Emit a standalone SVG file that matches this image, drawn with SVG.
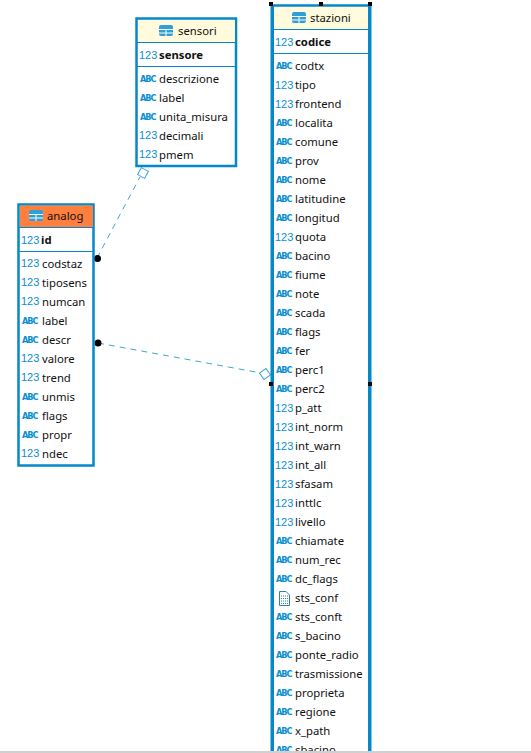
<svg xmlns="http://www.w3.org/2000/svg" width="531" height="753" viewBox="0 0 531 753">
<style>
.f{font-family:"Noto Sans","Liberation Sans",sans-serif;font-size:11.3px;fill:#111}
.b{font-weight:700}
.n{font-family:"Liberation Sans",sans-serif;font-size:11px;fill:#0a8fcf}
.a{font-family:"DejaVu Sans",sans-serif;font-size:8.2px;font-weight:700;fill:#0a8fcf;letter-spacing:-1.1px}
.box{fill:#fff;stroke:#0588c8;stroke-width:2.500}
.sep{stroke:#0588c8;stroke-width:1}
.c{fill:none;stroke:#3fa7d6;stroke-width:1;stroke-dasharray:6 5}
.d{fill:#fff;stroke:#3fa7d6;stroke-width:1}
.h{fill:#000}
.ic{fill:#2f9fd8}
.il{stroke:#fff;stroke-width:1}
</style>
<defs>
<g id="t"><rect class="ic" x="0" y="0" width="14" height="11" rx="2"/><path class="il" d="M0 4.500H14M7 4.500V11M0 8H14"/></g>
</defs>
<rect x="0" y="751" width="531" height="2" fill="#d0d0d0"/>
<g id="connectors">
<path class="c" d="M97 258L140 177"/>
<path class="c" d="M98 343L261 373"/>
<rect class="d" x="139" y="169" width="8" height="8" transform="rotate(28 143 173)"/>
<rect class="d" x="261" y="370" width="8" height="8" transform="rotate(55 265 374)"/>
<circle class="h" cx="97.500" cy="258.500" r="3.500"/>
<circle class="h" cx="98" cy="343" r="3.500"/>
</g>
<g id="sensori">
<rect class="box" x="136.500" y="18.500" width="99.500" height="147.500"/>
<rect x="138" y="20" width="97" height="22" fill="#fffbdc"/>
<path class="sep" d="M137 42.500H236M137 66.500H236"/>
<use href="#t" x="159" y="25"/>
<text class="f" x="178" y="35">sensori</text>
<text class="n" x="139" y="59">123</text><text class="f b" x="159" y="59">sensore</text>
<text class="a" x="140" y="82">ABC</text><text class="f" x="159" y="83">descrizione</text>
<text class="a" x="140" y="101">ABC</text><text class="f" x="159" y="102">label</text>
<text class="a" x="140" y="120">ABC</text><text class="f" x="159" y="121">unita_misura</text>
<text class="n" x="139" y="139">123</text><text class="f" x="159" y="140">decimali</text>
<text class="n" x="139" y="158">123</text><text class="f" x="159" y="159">pmem</text>
</g>
<g id="analog">
<rect class="box" x="18.500" y="204.500" width="75" height="261"/>
<rect x="20" y="205.500" width="73" height="22" fill="#ff7f3f"/>
<path class="sep" d="M19 227.500H94M19 251.500H94"/>
<use href="#t" x="29" y="210"/>
<text class="f" x="47" y="220">analog</text>
<text class="n" x="21" y="244">123</text><text class="f b" x="41" y="244">id</text>
<text class="n" x="21" y="267">123</text><text class="f" x="42" y="268">codstaz</text>
<text class="n" x="21" y="286">123</text><text class="f" x="42" y="287">tiposens</text>
<text class="n" x="21" y="305">123</text><text class="f" x="42" y="306">numcan</text>
<text class="a" x="22" y="324">ABC</text><text class="f" x="42" y="325">label</text>
<text class="a" x="22" y="343">ABC</text><text class="f" x="42" y="344">descr</text>
<text class="n" x="21" y="362">123</text><text class="f" x="42" y="363">valore</text>
<text class="n" x="21" y="381">123</text><text class="f" x="42" y="382">trend</text>
<text class="a" x="22" y="400">ABC</text><text class="f" x="42" y="401">unmis</text>
<text class="a" x="22" y="419">ABC</text><text class="f" x="42" y="420">flags</text>
<text class="a" x="22" y="438">ABC</text><text class="f" x="42" y="439">propr</text>
<text class="n" x="21" y="457">123</text><text class="f" x="42" y="458">ndec</text>
</g>
<g id="stazioni">
<rect x="272" y="6" width="98" height="745" fill="#fff"/>
<rect x="274" y="7" width="94" height="22" fill="#fffbdc"/>
<path d="M272 5.500H369" stroke="#0588c8" stroke-width="2.500"/>
<rect x="270.500" y="5" width="3.500" height="746" fill="#0588c8"/>
<rect x="368" y="5" width="3.500" height="746" fill="#0588c8"/>
<path class="sep" d="M272 29.500H370M272 53.500H370"/>
<use href="#t" x="292" y="12"/>
<text class="f" x="310" y="22">stazioni</text>
<text class="n" x="275" y="46">123</text><text class="f b" x="295" y="46">codice</text>
<text class="a" x="276" y="69">ABC</text><text class="f" x="295" y="70">codtx</text>
<text class="n" x="275" y="89">123</text><text class="f" x="295" y="89">tipo</text>
<text class="n" x="275" y="108">123</text><text class="f" x="295" y="108">frontend</text>
<text class="a" x="276" y="126">ABC</text><text class="f" x="295" y="127">localita</text>
<text class="a" x="276" y="145">ABC</text><text class="f" x="295" y="146">comune</text>
<text class="a" x="276" y="164">ABC</text><text class="f" x="295" y="165">prov</text>
<text class="a" x="276" y="183">ABC</text><text class="f" x="295" y="184">nome</text>
<text class="a" x="276" y="202">ABC</text><text class="f" x="295" y="203">latitudine</text>
<text class="a" x="276" y="221">ABC</text><text class="f" x="295" y="222">longitud</text>
<text class="n" x="275" y="241">123</text><text class="f" x="295" y="241">quota</text>
<text class="a" x="276" y="259">ABC</text><text class="f" x="295" y="260">bacino</text>
<text class="a" x="276" y="278">ABC</text><text class="f" x="295" y="279">fiume</text>
<text class="a" x="276" y="297">ABC</text><text class="f" x="295" y="298">note</text>
<text class="a" x="276" y="316">ABC</text><text class="f" x="295" y="317">scada</text>
<text class="a" x="276" y="335">ABC</text><text class="f" x="295" y="336">flags</text>
<text class="a" x="276" y="354">ABC</text><text class="f" x="295" y="355">fer</text>
<text class="a" x="276" y="373">ABC</text><text class="f" x="295" y="374">perc1</text>
<text class="a" x="276" y="392">ABC</text><text class="f" x="295" y="393">perc2</text>
<text class="n" x="275" y="412">123</text><text class="f" x="295" y="412">p_att</text>
<text class="n" x="275" y="431">123</text><text class="f" x="295" y="431">int_norm</text>
<text class="n" x="275" y="450">123</text><text class="f" x="295" y="450">int_warn</text>
<text class="n" x="275" y="469">123</text><text class="f" x="295" y="469">int_all</text>
<text class="n" x="275" y="488">123</text><text class="f" x="295" y="488">sfasam</text>
<text class="n" x="275" y="507">123</text><text class="f" x="295" y="507">inttlc</text>
<text class="n" x="275" y="526">123</text><text class="f" x="295" y="526">livello</text>
<text class="a" x="276" y="544">ABC</text><text class="f" x="295" y="545">chiamate</text>
<text class="a" x="276" y="563">ABC</text><text class="f" x="295" y="564">num_rec</text>
<text class="a" x="276" y="582">ABC</text><text class="f" x="295" y="583">dc_flags</text>
<g id="sts_conf_icon"><path d="M279.500 591.500H286L289.500 595V605.500H279.500Z" fill="#fff" stroke="#2f7fb8"/><path d="M281 596H288M281 598.500H288M281 601H288M281 603.500H288" stroke="#2f7fb8" stroke-dasharray="1 1"/></g>
<text class="f" x="295" y="602">sts_conf</text>
<text class="a" x="276" y="620">ABC</text><text class="f" x="295" y="621">sts_conft</text>
<text class="a" x="276" y="639">ABC</text><text class="f" x="295" y="640">s_bacino</text>
<text class="a" x="276" y="658">ABC</text><text class="f" x="295" y="659">ponte_radio</text>
<text class="a" x="276" y="677">ABC</text><text class="f" x="295" y="678">trasmissione</text>
<text class="a" x="276" y="696">ABC</text><text class="f" x="295" y="697">proprieta</text>
<text class="a" x="276" y="715">ABC</text><text class="f" x="295" y="716">regione</text>
<text class="a" x="276" y="734">ABC</text><text class="f" x="295" y="735">x_path</text>
<text class="a" x="276" y="753">ABC</text><text class="f" x="295" y="754">sbacino</text>
<rect x="0" y="751" width="531" height="2" fill="#d0d0d0"/>
<rect class="h" x="269" y="2" width="4" height="4"/><rect class="h" x="319" y="2" width="4" height="4"/><rect class="h" x="368" y="2" width="4" height="4"/>
<rect class="h" x="269" y="382" width="4" height="4"/><rect class="h" x="368" y="382" width="4" height="4"/>
</g>
</svg>
